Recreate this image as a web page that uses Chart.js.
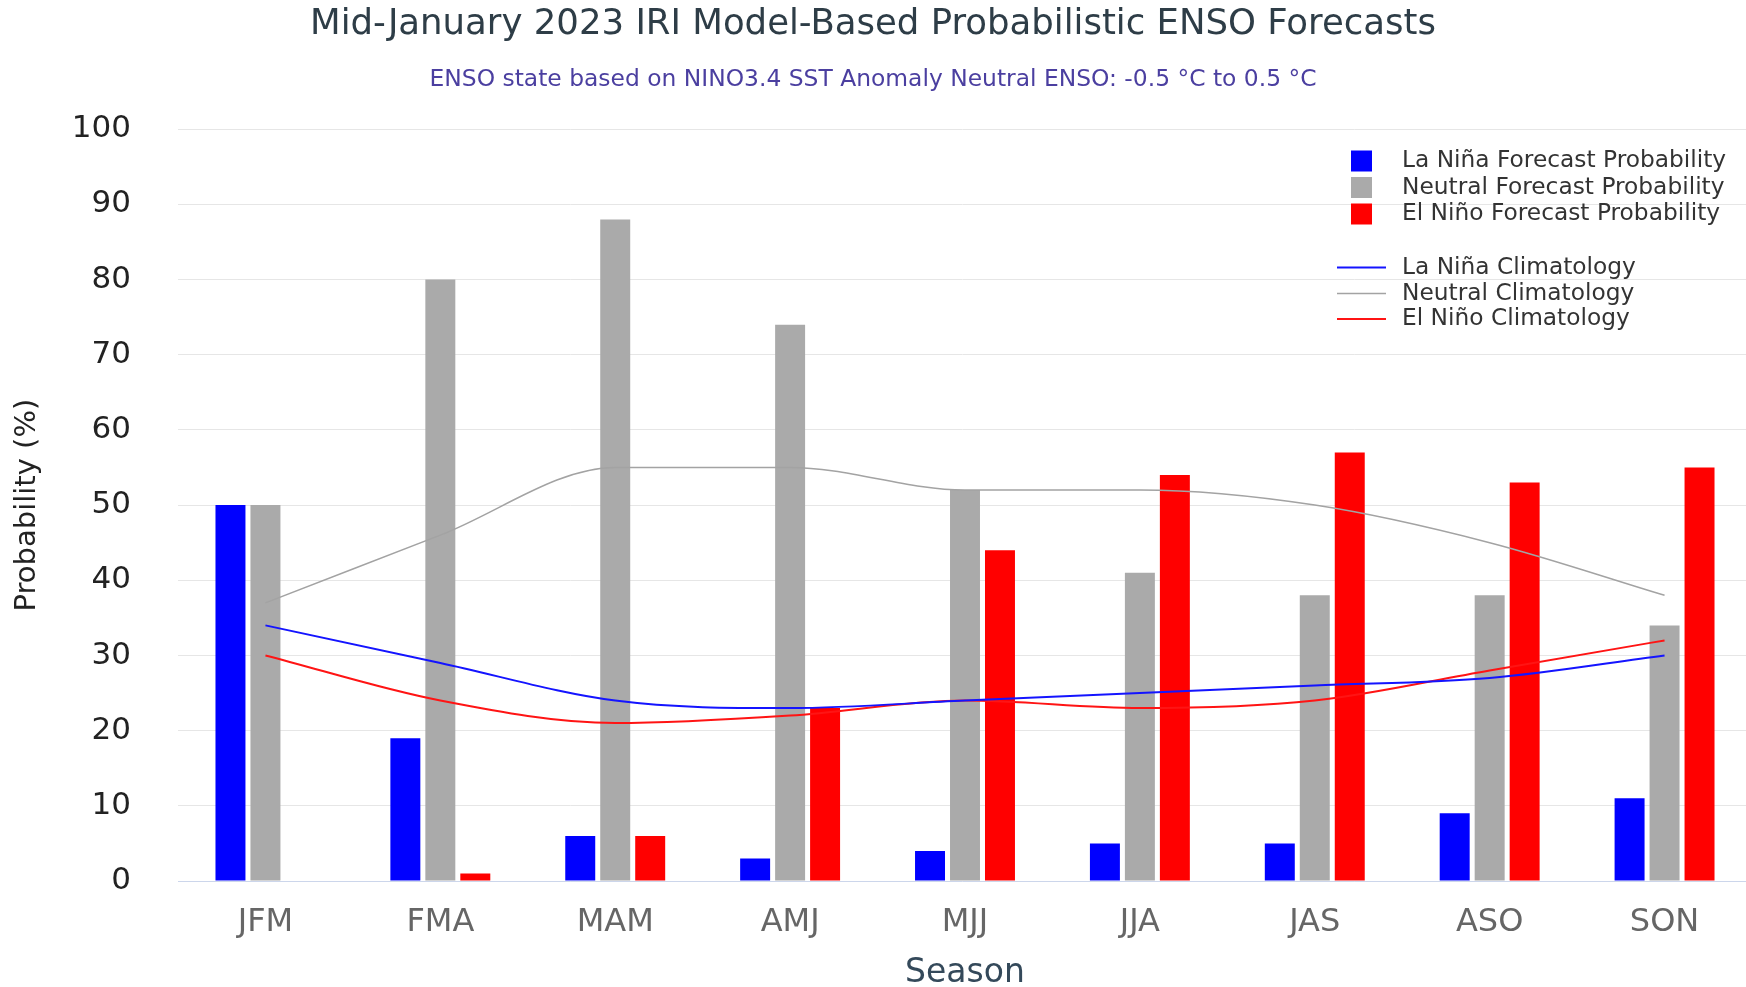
<!DOCTYPE html>
<html>
<head>
<meta charset="utf-8">
<title>IRI ENSO Forecast</title>
<script src="https://cdn.jsdelivr.net/npm/chart.js@4.4.0/dist/chart.umd.min.js"></script>
<style>
  html, body { margin: 0; padding: 0; background: #ffffff; }
  #wrap { position: relative; width: 1746px; height: 987px; }
</style>
</head>
<body>
<div id="wrap"><canvas id="enso"></canvas></div>
<script>
// Three-month seasons of the forecast
const seasons = ['JFM', 'FMA', 'MAM', 'AMJ', 'MJJ', 'JJA', 'JAS', 'ASO', 'SON'];

// Forecast probabilities (%)
const laNinaForecast  = [50, 19, 6, 3, 4, 5, 5, 9, 11];
const neutralForecast = [50, 80, 88, 74, 52, 41, 38, 38, 34];
const elNinoForecast  = [0, 1, 6, 23, 44, 54, 57, 53, 55];

// Climatological probabilities (%)
const laNinaClimatology  = [34, 29, 24, 23, 24, 25, 26, 27, 30];
const neutralClimatology = [37, 46, 55, 55, 52, 52, 50, 45, 38];
const elNinoClimatology  = [30, 24, 21, 22, 24, 23, 24, 28, 32];

// Probability axis
const yMin = 0;
const yMax = 100;
const yStep = 10;

const FONT = '"DejaVu Sans", "Liberation Sans", sans-serif';

// Legend drawn in the upper right of the plot: swatches for the bars, strokes for the lines
const legendBox = {
  swatchX: 1351, swatchSize: 21,
  lineX0: 1337, lineX1: 1386,
  textX: 1402,
  rows: [161, 187.5, 214, 267.5, 293.5, 319]
};

const seasonLegend = {
  id: 'seasonLegend',
  afterDraw(chart) {
    const ctx = chart.ctx;
    ctx.save();
    ctx.font = '23.3px ' + FONT;
    ctx.textBaseline = 'middle';
    ctx.textAlign = 'left';
    chart.data.datasets.forEach((ds, i) => {
      const y = legendBox.rows[i];
      if (ds.type === 'line') {
        ctx.strokeStyle = ds.borderColor;
        ctx.lineWidth = ds.borderWidth;
        ctx.beginPath();
        ctx.moveTo(legendBox.lineX0, y);
        ctx.lineTo(legendBox.lineX1, y);
        ctx.stroke();
      } else {
        ctx.fillStyle = ds.backgroundColor;
        ctx.fillRect(legendBox.swatchX, y - legendBox.swatchSize / 2, legendBox.swatchSize, legendBox.swatchSize);
      }
      ctx.fillStyle = '#333333';
      ctx.fillText(ds.label, legendBox.textX, y);
    });
    ctx.restore();
  }
};

// The plot runs a few pixels past the right edge of the canvas
const plotOverhang = {
  id: 'plotOverhang',
  afterLayout(chart) {
    const extra = 6;
    const x = chart.scales.x;
    x.right += extra;
    x.width = x.right - x.left;
    x.configure();
    chart.chartArea.right += extra;
    chart.chartArea.width += extra;
  }
};

const barStyle = { categoryPercentage: 0.6, barPercentage: 0.857, borderWidth: 0, order: 2 };
const lineStyle = { type: 'line', pointRadius: 0, pointHoverRadius: 0, fill: false,
                    cubicInterpolationMode: 'monotone', order: 1 };

new Chart(document.getElementById('enso'), {
  type: 'bar',
  data: {
    labels: seasons,
    datasets: [
      Object.assign({ label: 'La Niña Forecast Probability', data: laNinaForecast, backgroundColor: '#0000ff' }, barStyle),
      Object.assign({ label: 'Neutral Forecast Probability', data: neutralForecast, backgroundColor: '#aaaaaa' }, barStyle),
      Object.assign({ label: 'El Niño Forecast Probability', data: elNinoForecast, backgroundColor: '#ff0000' }, barStyle),
      Object.assign({ label: 'La Niña Climatology', data: laNinaClimatology, borderColor: '#1414ff', borderWidth: 2 }, lineStyle),
      Object.assign({ label: 'Neutral Climatology', data: neutralClimatology, borderColor: '#a3a3a3', borderWidth: 1.5 }, lineStyle),
      Object.assign({ label: 'El Niño Climatology', data: elNinoClimatology, borderColor: '#ff1414', borderWidth: 2 }, lineStyle)
    ]
  },
  options: {
    responsive: true,
    maintainAspectRatio: false,
    animation: false,
    layout: { padding: 0 },
    plugins: {
      legend: { display: false },
      tooltip: { enabled: false },
      title: {
        display: true,
        text: 'Mid-January 2023 IRI Model-Based Probabilistic ENSO Forecasts',
        color: '#2e3d47',
        font: { family: FONT, size: 35.5, weight: 'normal' },
        padding: { top: 3, bottom: 0 }
      },
      subtitle: {
        display: true,
        text: 'ENSO state based on NINO3.4 SST Anomaly Neutral ENSO: -0.5 °C to 0.5 °C',
        color: '#4b3fa0',
        font: { family: FONT, size: 23.4, weight: 'normal' },
        padding: { top: 20.5, bottom: 35 }
      }
    },
    scales: {
      x: {
        grid: { display: false, drawTicks: false },
        border: { display: true, color: '#ccd6eb', width: 1 },
        ticks: { color: '#666666', font: { family: FONT, size: 32 }, padding: 22 },
        title: {
          display: true, text: 'Season', color: '#34495a',
          font: { family: FONT, size: 33, lineHeight: 0.84 }, padding: { top: 0, bottom: 0 }
        },
        afterFit(scale) { scale.height = 106; }
      },
      y: {
        min: yMin, max: yMax,
        grid: { color: '#e6e6e6', lineWidth: 1, drawTicks: false },
        border: { display: false },
        ticks: { stepSize: yStep, color: '#222222', font: { family: FONT, size: 31 }, padding: 47 },
        title: {
          display: true, text: 'Probability (%)', color: '#222222',
          font: { family: FONT, size: 29 }, padding: { top: 10, bottom: 0 }
        },
        afterFit(scale) { scale.width = 178; }
      }
    }
  },
  plugins: [plotOverhang, seasonLegend]
});
</script>
</body>
</html>
